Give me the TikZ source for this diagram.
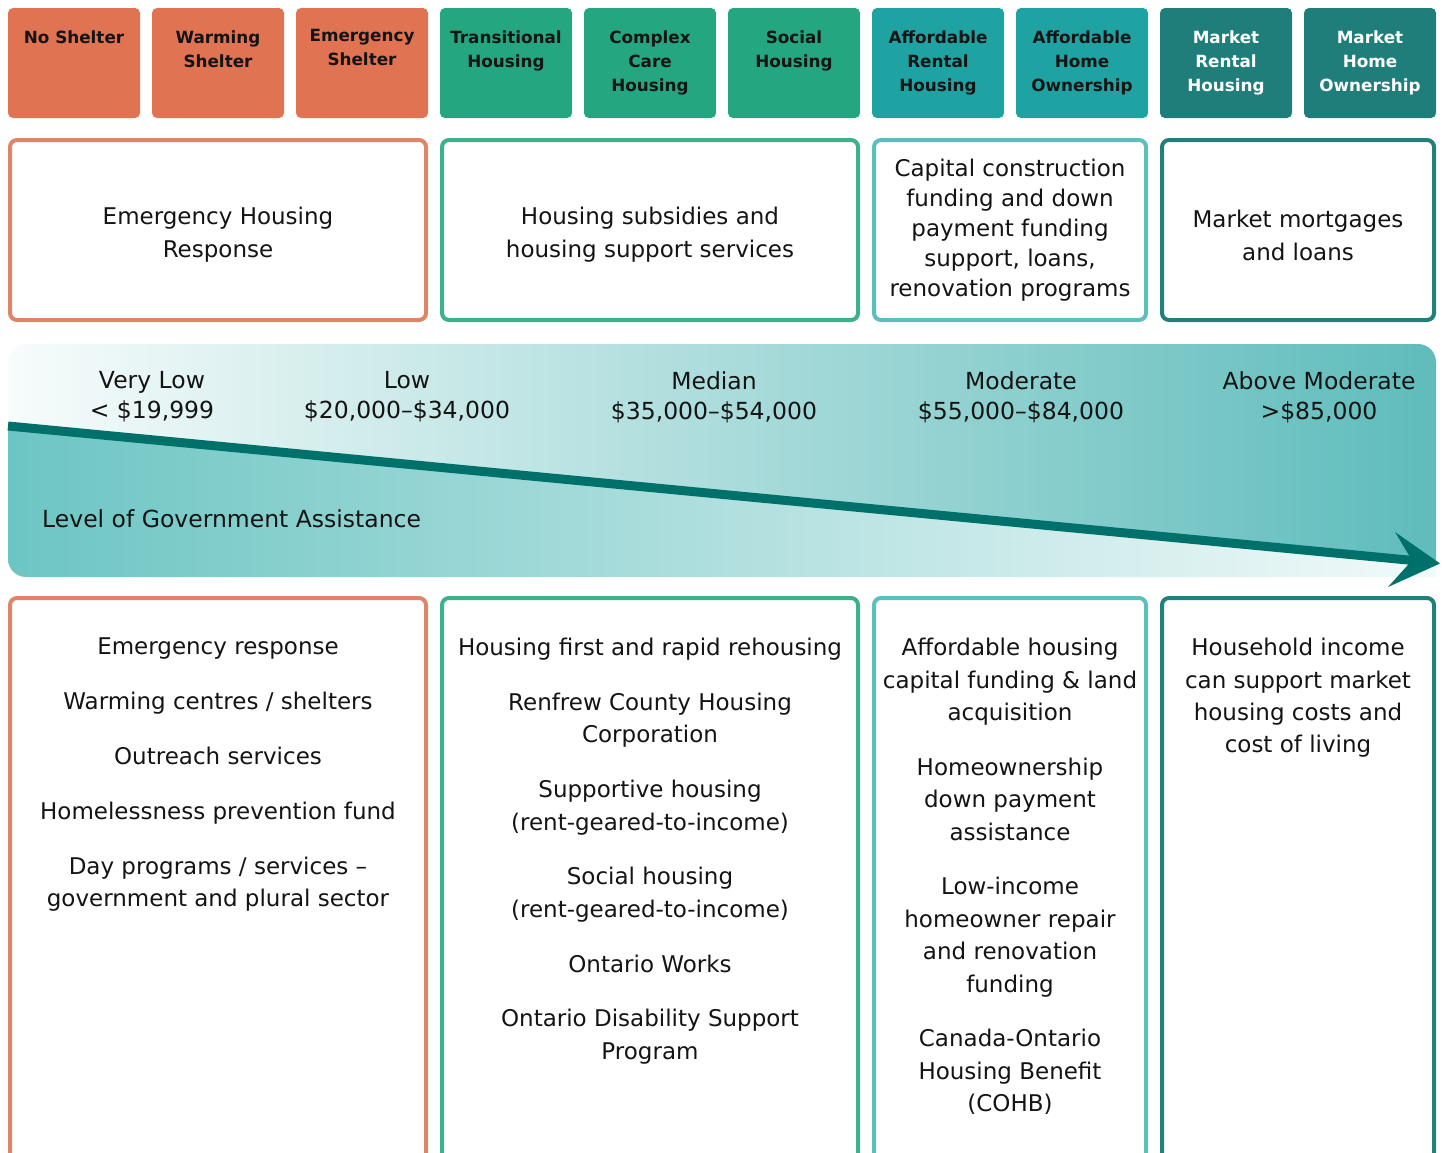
\documentclass[tikz,border=0pt]{standalone}
\usepackage{fontspec}
\setmainfont{DejaVu Sans}
\definecolor{orfill}{HTML}{E07352}
\definecolor{grfill}{HTML}{24A680}
\definecolor{tlfill}{HTML}{1FA3A2}
\definecolor{dkfill}{HTML}{1F7D7A}
\definecolor{orline}{HTML}{E08468}
\definecolor{grline}{HTML}{3DB18C}
\definecolor{tlline}{HTML}{5CBFBD}
\definecolor{dkline}{HTML}{21807C}
\definecolor{bandlight}{HTML}{F8FCFC}
\definecolor{bandtopR}{HTML}{5EBCBB}
\definecolor{bandbotL}{HTML}{6CC5C3}
\definecolor{bandbotR}{HTML}{F3FAFA}
\definecolor{arrowc}{HTML}{00706B}
\definecolor{ink}{HTML}{141414}
\begin{document}
\begin{tikzpicture}[x=1pt,y=-1pt,
  hdr/.style={rectangle, rounded corners=5pt, minimum width=132pt, minimum height=110pt, anchor=north west, inner sep=0pt, outer sep=0pt},
  htxt/.style={anchor=north, align=center, inner sep=0pt, font=\bfseries\fontsize{16.8}{24}\selectfont, text=ink},
  mbox/.style={rectangle, draw, line width=4pt, rounded corners=7pt, fill=white, anchor=north west, inner sep=0pt, outer sep=0pt},
  mtxt/.style={align=center, inner sep=0pt, font=\fontsize{23}{33}\selectfont, text=ink},
  btxt/.style={anchor=north, align=center, inner sep=0pt, font=\fontsize{23}{32.4}\selectfont, text=ink},
  itxt/.style={align=center, inner sep=0pt, font=\fontsize{23.5}{30}\selectfont, text=ink}
]
\useasboundingbox (0,0) rectangle (1445,1152);
\clip (0,0) rectangle (1445,1152);

% ---------- header boxes ----------
\node[hdr, fill=orfill] (h1) at (8,8) {};
\node[hdr, fill=orfill] (h2) at (152,8) {};
\node[hdr, fill=orfill] (h3) at (296,8) {};
\node[hdr, fill=grfill] (h4) at (440,8) {};
\node[hdr, fill=grfill] (h5) at (584,8) {};
\node[hdr, fill=grfill] (h6) at (728,8) {};
\node[hdr, fill=tlfill] (h7) at (872,8) {};
\node[hdr, fill=tlfill] (h8) at (1016,8) {};
\node[hdr, fill=dkfill] (h9) at (1160,8) {};
\node[hdr, fill=dkfill] (h10) at (1304,8) {};

\node[htxt] (ht1) at (74,31) {No Shelter};
\node[htxt] (ht2) at (218,31) {Warming\\Shelter};
\node[htxt] (ht3) at (362,29) {Emergency\\Shelter};
\node[htxt] (ht4) at (506,31) {Transitional\\Housing};
\node[htxt] (ht5) at (650,31) {Complex\\Care\\Housing};
\node[htxt] (ht6) at (794,31) {Social\\Housing};
\node[htxt] (ht7) at (938,31) {Affordable\\Rental\\Housing};
\node[htxt] (ht8) at (1082,31) {Affordable\\Home\\Ownership};
\node[htxt, text=white] (ht9) at (1226,31) {Market\\Rental\\Housing};
\node[htxt, text=white] (ht10) at (1370,31) {Market\\Home\\Ownership};

% ---------- middle boxes ----------
\node[mbox, draw=orline, minimum width=416pt, minimum height=180pt] (m1) at (10,140) {};
\node[mbox, draw=grline, minimum width=416pt, minimum height=180pt] (m2) at (442,140) {};
\node[mbox, draw=tlline, minimum width=272pt, minimum height=180pt] (m3) at (874,140) {};
\node[mbox, draw=dkline, minimum width=272pt, minimum height=180pt] (m4) at (1162,140) {};

\node[mtxt] (mt1) at (218,235) {Emergency Housing\\Response};
\node[mtxt] (mt2) at (650,235) {Housing subsidies and\\housing support services};
\node[mtxt, font=\fontsize{23}{30}\selectfont] (mt3) at (1010,230) {Capital construction\\funding and down\\payment funding\\support, loans,\\renovation programs};
\node[mtxt] (mt4) at (1298,235) {Market mortgages\\and loans};

% ---------- gradient band ----------
\begin{scope}
  \clip[rounded corners=18pt] (8,344) rectangle (1436,577)
       [sharp corners] (1380,520) rectangle (1436,577);
  \shade[left color=bandlight, right color=bandtopR]
     (0,336) -- (1445,336) -- (1445,564) -- (0,425) -- cycle;
  \shade[left color=bandbotL, right color=bandbotR]
     (0,424) -- (1445,563) -- (1445,600) -- (0,600) -- cycle;
\end{scope}

\node[itxt] (i1) at (152,397) {Very Low\\< \$19,999};
\node[itxt] (i2) at (407,397) {Low\\\$20,000–\$34,000};
\node[itxt] (i3) at (714,397) {Median\\\$35,000–\$54,000};
\node[itxt] (i4) at (1021,397) {Moderate\\\$55,000–\$84,000};
\node[itxt] (i5) at (1319,397) {Above Moderate\\>\$85,000};
\node[itxt, anchor=west] (gov) at (42,519) {Level of Government Assistance};

\coordinate (ls) at (8,426);
\coordinate (le) at (1412,560.4);
\coordinate (tip) at (1440,563.5);
\draw[arrowc, line width=9pt] (ls) -- (le);
\fill[arrowc] (le) -- (1395,532) -- (tip) -- (1388,587) -- cycle;

% ---------- bottom boxes ----------
\node[mbox, draw=orline, minimum width=416pt, minimum height=620pt] (b1) at (10,598) {};
\node[mbox, draw=grline, minimum width=416pt, minimum height=620pt] (b2) at (442,598) {};
\node[mbox, draw=tlline, minimum width=272pt, minimum height=620pt] (b3) at (874,598) {};
\node[mbox, draw=dkline, minimum width=272pt, minimum height=620pt] (b4) at (1162,598) {};

\node[btxt] (bt1) at (218,638) {Emergency response\\[22.4pt]
Warming centres / shelters\\[22.4pt]
Outreach services\\[22.4pt]
Homelessness prevention fund\\[22.4pt]
Day programs / services –\\government and plural sector};

\node[btxt] (bt2) at (650,638) {Housing first and rapid rehousing\\[22.4pt]
Renfrew County Housing\\Corporation\\[22.4pt]
Supportive housing\\(rent-geared-to-income)\\[22.4pt]
Social housing\\(rent-geared-to-income)\\[22.4pt]
Ontario Works\\[22.4pt]
Ontario Disability Support\\Program};

\node[btxt] (bt3) at (1010,638) {Affordable housing\\capital funding \& land\\acquisition\\[22.4pt]
Homeownership\\down payment\\assistance\\[22.4pt]
Low-income\\homeowner repair\\and renovation\\funding\\[22.4pt]
Canada-Ontario\\Housing Benefit\\(COHB)};

\node[btxt] (bt4) at (1298,638) {Household income\\can support market\\housing costs and\\cost of living};
\end{tikzpicture}
\end{document}
